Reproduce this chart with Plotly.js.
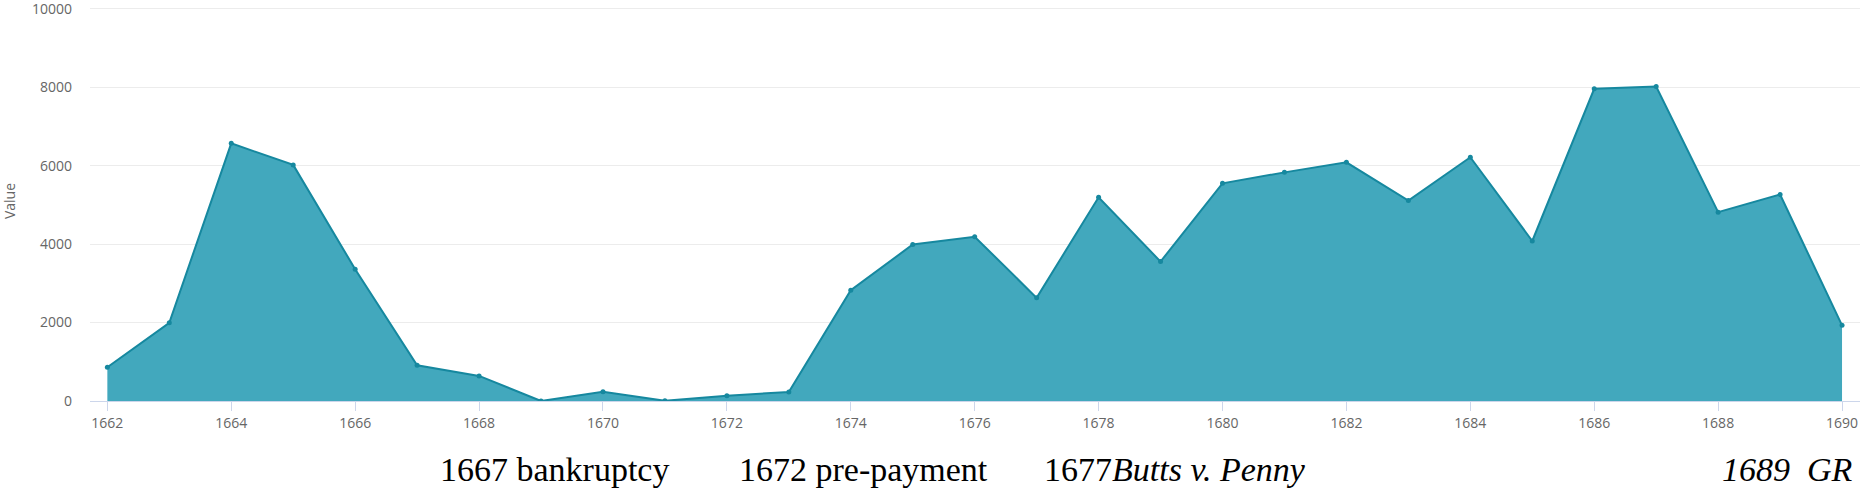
<!DOCTYPE html>
<html>
<head>
<meta charset="utf-8">
<script src="https://cdn.plot.ly/plotly-3.0.1.min.js"></script>
<style>
  html, body { margin: 0; padding: 0; background: #fff; }
  #container { width: 1865px; height: 489px; }
</style>
</head>
<body>
<div id="container"></div>
<script>
const years = [
    1662, 1663, 1664, 1665, 1666, 1667, 1668, 1669, 1670, 1671,
    1672, 1673, 1674, 1675, 1676, 1677, 1678, 1679, 1680, 1681,
    1682, 1683, 1684, 1685, 1686, 1687, 1688, 1689, 1690
];
const values = [
    860, 1995, 6570, 6020, 3360, 910, 640, 0, 235, 5,
    135, 230, 2825, 3990, 4190, 2630, 5195, 3555, 5550, 5830,
    6085, 5110, 6215, 4080, 7960, 8020, 4815, 5265, 1930
];
const yTicks = [0, 2000, 4000, 6000, 8000, 10000];
const noteTexts = [
    "1667 bankruptcy",
    "1672 pre-payment",
    "1677<i>Butts v. Penny</i>",
    "<i>1689&nbsp;&nbsp;GR</i>"
];

function visualizeData(){
    const trace = {
        x: years,
        y: values,
        type: "scatter",
        mode: "lines+markers",
        fill: "tozeroy",
        fillcolor: "#42a8bd",
        line: { color: "#16889f", width: 2 },
        marker: { color: "#16889f", size: 5 },
        hoverinfo: "x+y",
        showlegend: false
    };

    // caption row under the axis, placed by eye
    const noteX = [0.1966, 0.3655, 0.5379, 0.9972];
    const noteAnchor = ["left", "left", "left", "right"];
    const notes = noteTexts.map((t, i) => ({
        text: t,
        xref: "paper", yref: "paper",
        x: noteX[i], y: -0.17,
        xanchor: noteAnchor[i], yanchor: "middle",
        showarrow: false,
        font: { family: "Liberation Serif, serif", size: 34, color: "#000" }
    }));

    const layout = {
        width: 1865,
        height: 489,
        margin: { t: 1, r: 5, b: 88, l: 90 },
        paper_bgcolor: "#fff",
        plot_bgcolor: "#fff",
        font: { family: "Open Sans, sans-serif", size: 14, color: "#666" },
        xaxis: {
            range: [1661.72, 1690.29],
            tick0: 1662,
            dtick: 2,
            showgrid: false,
            zeroline: false,
            showline: true,
            linecolor: "#ccd6eb",
            linewidth: 1,
            ticks: "outside",
            ticklen: 9,
            tickcolor: "#ccd6eb",
            tickfont: { size: 14, color: "#666" }
        },
        yaxis: {
            title: { text: "Value", font: { size: 14, color: "#666" }, standoff: 22 },
            range: [0, 10200],
            tickvals: yTicks,
            ticktext: yTicks.map(String),
            showgrid: true,
            gridcolor: "#ececec",
            zeroline: false,
            ticklabelstandoff: 17,
            ticklabeloverflow: "allow",
            tickfont: { size: 14, color: "#666" }
        },
        annotations: notes
    };

    Plotly.newPlot("container", [trace], layout, { displayModeBar: false });
}

visualizeData();
</script>
</body>
</html>
